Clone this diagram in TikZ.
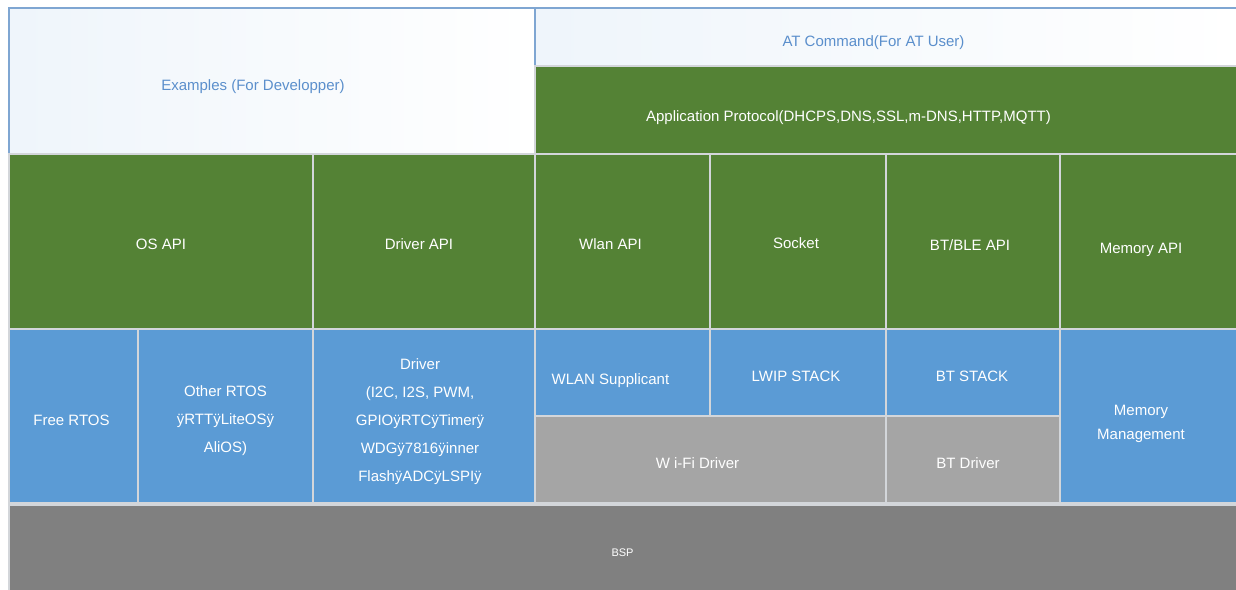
\documentclass[tikz,border=0pt]{standalone}
\usepackage{fontspec}
\setmainfont{Liberation Sans}
\usetikzlibrary{fit}

\definecolor{apigreen}{HTML}{548235}
\definecolor{stackblue}{HTML}{5B9BD5}
\definecolor{drvgray}{HTML}{A5A5A5}
\definecolor{bspgray}{HTML}{808080}
\definecolor{linegray}{HTML}{D3D6DA}
\definecolor{userblue}{HTML}{5B8FCC}
\definecolor{frameblue}{HTML}{7FA6D2}

\tikzset{
    layer/.style={draw=linegray, line width=1.2pt, inner sep=0pt},
    every label/.style={inner sep=0pt, text=white, align=center,
        font=\fontsize{15}{28}\selectfont},
    api/.style={layer, fill=apigreen},
    stack/.style={layer, fill=stackblue},
    drv/.style={layer, fill=drvgray},
    user/.style={layer, draw=frameblue, left color=stackblue!10, right color=white}
}

\begin{document}
\begin{tikzpicture}[x=1pt, y=-1pt]
        \useasboundingbox[fill=white] (0, 0) rectangle (1236, 589);

        % user layer
        \node[user, fit={(9, 8) (535, 154)}, label={[text=userblue, xshift=-19pt,
            yshift=-6pt]center:Examples (For Developper)}] (examples) {};
        \node[user, fit={(535, 8) (1238, 66)}, label={[text=userblue, xshift=-13pt,
            yshift=-6pt]center:AT Command(For AT User)}] (atcmd) {};
        \node[api, fit={(535, 66) (1238, 154)}, label={[xshift=-38pt, yshift=-8pt]center:%
            {Application Protocol(DHCPS,DNS,SSL,m-DNS,HTTP,MQTT)}}] (appproto) {};

        % api layer
        \node[api, fit={(9, 154) (313, 329)},
            label={[yshift=-2.5pt]center:OS API}] (osapi) {};
        \node[api, fit={(313, 154) (535, 329)},
            label={[xshift=-5pt, yshift=-3pt]center:Driver API}] (drvapi) {};
        \node[api, fit={(535, 154) (710, 329)},
            label={[xshift=-12pt, yshift=-3pt]center:Wlan API}] (wlanapi) {};
        \node[api, fit={(710, 154) (886, 329)},
            label={[xshift=-2pt, yshift=-2pt]center:Socket}] (socket) {};
        \node[api, fit={(886, 154) (1060, 329)},
            label={[xshift=-3pt, yshift=-4pt]center:BT/BLE API}] (btapi) {};
        \node[api, fit={(1060, 154) (1238, 329)},
            label={[xshift=-8pt, yshift=-8pt]center:Memory API}] (memapi) {};

        % stacks and drivers
        \node[stack, fit={(9, 329) (138, 503)},
            label={[xshift=-2pt, yshift=-4pt]center:Free RTOS}] (freertos) {};
        \node[stack, fit={(138, 329) (313, 503)},
            label={[yshift=-5pt]center:Other RTOS\\ÿRTTÿLiteOSÿ\\AliOS)}] (otherrtos) {};
        \node[stack, fit={(313, 329) (535, 503)}, label={[xshift=-4pt, yshift=-6pt]center:%
            {Driver\\(I2C, I2S, PWM,\\GPIOÿRTCÿTimerÿ\\WDGÿ7816ÿinner\\FlashÿADCÿLSPIÿ}}]
            (driver) {};
        \node[stack, fit={(535, 329) (710, 416)},
            label={[xshift=-12pt, yshift=-8pt]center:WLAN Supplicant}] (supplicant) {};
        \node[stack, fit={(710, 329) (886, 416)},
            label={[xshift=-2pt, yshift=-4pt]center:LWIP STACK}] (lwip) {};
        \node[stack, fit={(886, 329) (1060, 416)},
            label={[xshift=-1pt, yshift=-4pt]center:BT STACK}] (btstack) {};
        \node[drv, fit={(535, 416) (886, 503)},
            label={[xshift=-13pt, yshift=-4pt]center:W i-Fi Driver}] (wifidrv) {};
        \node[drv, fit={(886, 416) (1060, 503)},
            label={[xshift=-5pt, yshift=-4pt]center:BT Driver}] (btdrv) {};
        \node[stack, fit={(1060, 329) (1238, 503)}, label={[xshift=-8pt, yshift=-8pt,
            font=\fontsize{15}{24}\selectfont]center:Memory\\Management}] (memmgmt) {};

        % bsp
        \node[layer, fill=bspgray, fit={(9, 505) (1238, 592)}, label={[xshift=-1pt,
            yshift=-4pt, font=\fontsize{11}{13}\selectfont]center:BSP}] (bsp) {};
\end{tikzpicture}
\end{document}
